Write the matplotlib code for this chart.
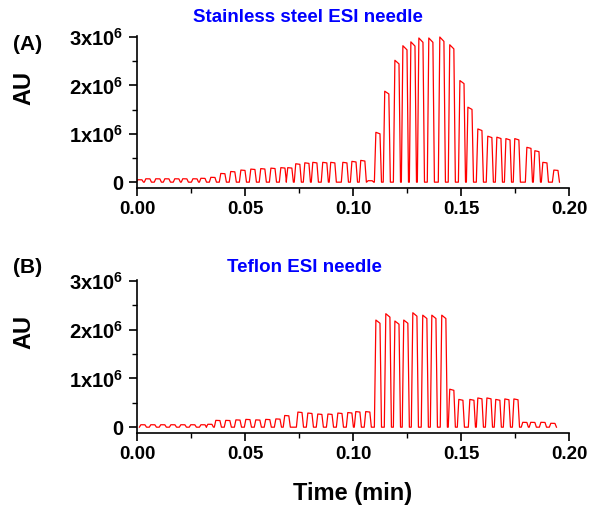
import numpy as np
import matplotlib
matplotlib.use("Agg")
import matplotlib.pyplot as plt
from matplotlib.ticker import MultipleLocator, FuncFormatter

plt.rcParams['font.family'] = 'Liberation Sans'
plt.rcParams['font.weight'] = 'bold'
plt.rcParams['mathtext.fontset'] = 'custom'
plt.rcParams['mathtext.bf'] = 'Liberation Sans:bold'
plt.rcParams['mathtext.rm'] = 'Liberation Sans:bold'
plt.rcParams['mathtext.default'] = 'bf'

# peak apex times (min) and heights (x1e6)
steel_t = [0.0014, 0.0051, 0.0097, 0.0139, 0.0185, 0.0222, 0.0269, 0.0306, 0.0352, 0.0398,
           0.0444, 0.0491, 0.0537, 0.0583, 0.0630, 0.0676, 0.0708, 0.0745, 0.0787, 0.0824,
           0.0870, 0.0907, 0.0963, 0.1005, 0.1046, 0.1080, 0.1116, 0.1157, 0.1204, 0.1241,
           0.1278, 0.1315, 0.1361, 0.1412, 0.1458, 0.1505, 0.1542, 0.1588, 0.1634, 0.1676,
           0.1718, 0.1759, 0.1815, 0.1852, 0.1889, 0.1940]
steel_h = [0.05, 0.07, 0.07, 0.07, 0.07, 0.07, 0.07, 0.08, 0.10, 0.18,
           0.22, 0.25, 0.27, 0.28, 0.29, 0.30, 0.30, 0.38, 0.40, 0.41,
           0.41, 0.41, 0.41, 0.43, 0.45, 0.03, 1.03, 1.88, 2.52, 2.82,
           2.90, 2.98, 2.98, 3.00, 2.84, 2.10, 1.55, 1.10, 0.95, 0.93,
           0.90, 0.90, 0.72, 0.65, 0.41, 0.25]

teflon_t = [0.0028, 0.0074, 0.0120, 0.0167, 0.0213, 0.0259, 0.0306, 0.0338, 0.0375, 0.0421,
            0.0468, 0.0514, 0.0560, 0.0606, 0.0653, 0.0694, 0.0755, 0.0801, 0.0847, 0.0894,
            0.0940, 0.0986, 0.1023, 0.1069, 0.1116, 0.1162, 0.1204, 0.1245, 0.1287, 0.1333,
            0.1375, 0.1421, 0.1458, 0.1500, 0.1551, 0.1588, 0.1630, 0.1671, 0.1713, 0.1755,
            0.1796, 0.1833, 0.1880, 0.1926]
teflon_h = [0.05, 0.05, 0.05, 0.05, 0.05, 0.05, 0.05, 0.06, 0.14, 0.14,
            0.15, 0.16, 0.15, 0.16, 0.17, 0.24, 0.31, 0.29, 0.27, 0.27,
            0.29, 0.30, 0.32, 0.32, 2.20, 2.33, 2.18, 2.20, 2.35, 2.30,
            2.30, 2.30, 0.78, 0.57, 0.57, 0.60, 0.60, 0.57, 0.58, 0.58,
            0.10, 0.10, 0.10, 0.08]


def trace(times, heights):
    # each droplet is a flat-topped pulse that drops back to baseline
    x, y = [], []
    for t, h in zip(times, heights):
        x += [t - 0.0017, t - 0.0010, t + 0.0009, t + 0.0016]
        y += [0.0, h * 1e6, h * 0.97e6, 0.0]
    return x, y


def fmt(v, pos):
    if abs(v) < 1:
        return '0'
    return '%dx10$^{6}$' % round(v / 1e6)


fig = plt.figure(figsize=(5.93, 5.08), dpi=100)
axA = fig.add_axes([0.231, 0.630, 0.7285, 0.299])
axB = fig.add_axes([0.231, 0.1476, 0.7285, 0.301])

for ax, (t, h) in [(axA, (steel_t, steel_h)), (axB, (teflon_t, teflon_h))]:
    x, y = trace(t, h)
    ax.plot(x, y, color='#ff0000', lw=0.9)
    ax.set_xlim(0, 0.2)
    ax.set_ylim(-0.12e6, 3.02e6)
    ax.spines['top'].set_visible(False)
    ax.spines['right'].set_visible(False)
    ax.spines['left'].set_linewidth(1.2)
    ax.spines['bottom'].set_linewidth(1.2)
    ax.xaxis.set_major_locator(MultipleLocator(0.05))
    ax.xaxis.set_minor_locator(MultipleLocator(0.025))
    ax.yaxis.set_major_locator(MultipleLocator(1e6))
    ax.yaxis.set_minor_locator(MultipleLocator(0.5e6))
    ax.xaxis.set_major_formatter(FuncFormatter(lambda v, p: '%.2f' % v))
    ax.yaxis.set_major_formatter(FuncFormatter(fmt))
    ax.tick_params(which='major', length=6, width=1.2, labelsize=13.5, direction='out')
    ax.tick_params(axis='y', which='major', labelsize=14.5)
    ax.tick_params(which='minor', length=3.5, width=1.0, direction='out')
    ax.set_ylabel('AU', fontsize=17, fontweight='bold')
    ax.yaxis.set_label_coords(-0.234, 0.66)

fig.text(0.047, 0.912, '(A)', fontsize=15, fontweight='bold', ha='center', va='center')
fig.text(0.047, 0.474, '(B)', fontsize=15, fontweight='bold', ha='center', va='center')
fig.text(0.520, 0.966, 'Stainless steel ESI needle', fontsize=13.5, fontweight='bold',
         color='#0000ff', ha='center', va='center')
fig.text(0.514, 0.474, 'Teflon ESI needle', fontsize=13.5, fontweight='bold',
         color='#0000ff', ha='center', va='center')
fig.text(0.594, 0.029, 'Time (min)', fontsize=17, fontweight='bold', ha='center', va='center')

fig.savefig('out.png', dpi=100)
